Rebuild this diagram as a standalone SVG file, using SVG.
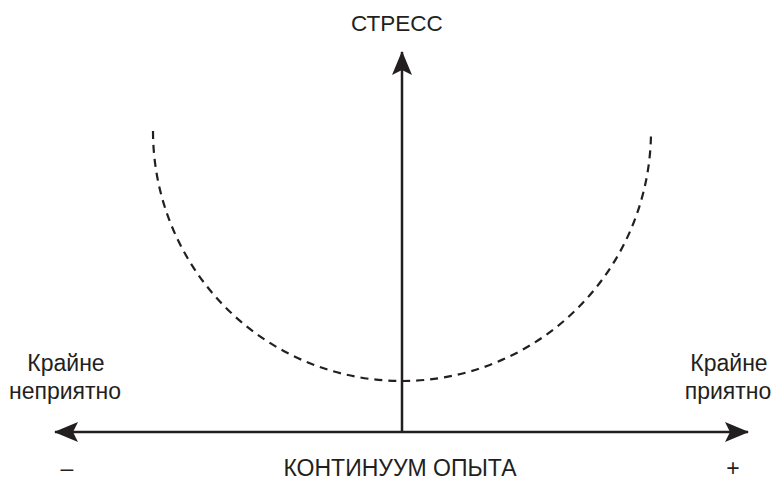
<svg xmlns="http://www.w3.org/2000/svg" width="780" height="481" viewBox="0 0 780 481">
<style>
text{font-family:"Liberation Sans",Arial,sans-serif;font-size:23px;fill:#231f20;text-anchor:middle}
.axis{stroke:#231f20;stroke-width:2.5;fill:none}
.curve{stroke:#231f20;stroke-width:2.2;fill:none;stroke-dasharray:8 6}
</style>
<defs>
<marker id="ah" markerUnits="userSpaceOnUse" markerWidth="24" markerHeight="20" refX="23" refY="10" orient="auto" viewBox="0 0 24 20">
<path d="M0,0 L24,10 L0,20 L5,10 Z" fill="#231f20"/>
</marker>
</defs>
<g id="connectors">
<path class="curve" d="M153,131 A249,250 0 0 0 651,131"/>
<line class="axis" x1="402" y1="432" x2="402" y2="52" marker-end="url(#ah)"/>
<line class="axis" x1="402" y1="432" x2="55" y2="432" marker-end="url(#ah)"/>
<line class="axis" x1="402" y1="432" x2="748" y2="432" marker-end="url(#ah)"/>
</g>
<g id="stress"><text x="397" y="31" style="font-size:22.5px">СТРЕСС</text></g>
<g id="left"><text x="66" y="371">Крайне</text><text x="65" y="399">неприятно</text></g>
<g id="right"><text x="729" y="371">Крайне</text><text x="728" y="399">приятно</text></g>
<g id="minus"><text x="67" y="476">–</text></g>
<g id="continuum"><text x="400" y="476">КОНТИНУУМ ОПЫТА</text></g>
<g id="plus"><text x="733" y="476">+</text></g>
</svg>
